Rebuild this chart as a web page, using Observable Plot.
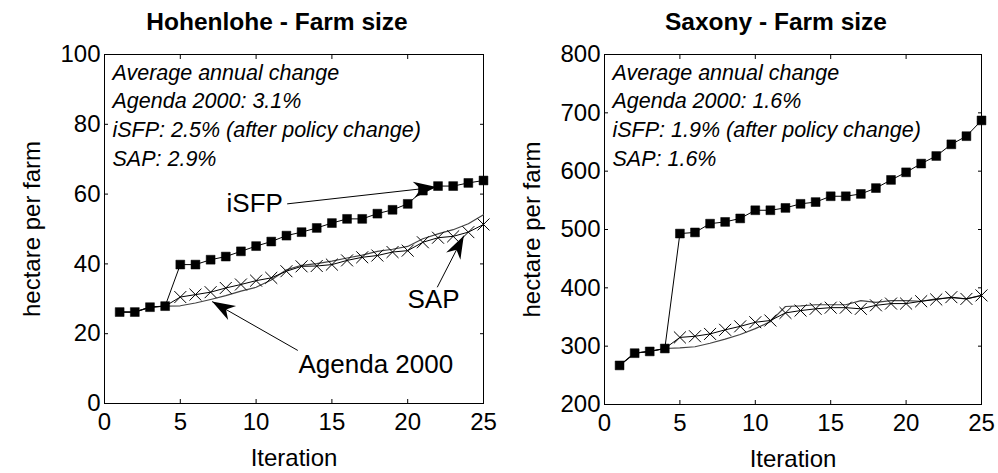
<!DOCTYPE html>
<html><head><meta charset="utf-8">
<script src="https://cdn.jsdelivr.net/npm/d3@7"></script>
<script src="https://cdn.jsdelivr.net/npm/@observablehq/plot@0.6"></script>
<style>
body{margin:0;background:#fff;}
#wrap{display:flex;width:998px;height:473px;overflow:hidden;}
#wrap svg{display:block;}
</style></head><body><div id="wrap"></div>
<script>
// ---------- data ----------
const iterations = [1,2,3,4,5,6,7,8,9,10,11,12,13,14,15,16,17,18,19,20,21,22,23,24,25];
const xTicks = [0,5,10,15,20,25];

// Hohenlohe
const hohTitle = "Hohenlohe - Farm size";
const hohYTicks = [0,20,40,60,80,100];
const hohAgenda = [26.2,26.2,27.6,27.9,28.0,28.8,29.8,30.9,32.2,33.3,35.4,38.3,39.6,40.1,40.8,41.7,42.5,43.6,44.2,45.0,47.2,48.6,49.8,51.5,54.1];
const hohISFP   = [26.2,26.2,27.6,27.9,39.8,39.8,41.2,42.1,43.6,45.1,46.4,48.1,49.1,50.3,51.7,52.9,52.9,54.4,55.5,57.2,61.0,62.3,62.3,63.2,63.9];
const hohSAP    = [26.2,26.2,27.6,27.9,30.5,31.2,31.9,33.1,34.1,35.2,36.0,37.9,39.3,39.4,39.8,41.0,41.9,42.4,43.4,43.8,46.2,47.5,47.9,49.1,51.3];
const hohNote = "Average annual change\nAgenda 2000: 3.1%\niSFP: 2.5% (after policy change)\nSAP: 2.9%";
const hohLabelText = ["iSFP","SAP","Agenda 2000"];
const hohLabelX = [11.9, 21.7, 17.9];
const hohLabelY = [57.3, 29.8, 11.2];
const hohLabelAnchor = ["end","middle","middle"];
const hohArrowFromX = [12.05, 21.95, 12.75];
const hohArrowFromY = [57.2, 33.3, 15.2];
const hohArrowToX = [21.9, 23.7, 7.1];
const hohArrowToY = [62.0, 48.1, 29.2];

// Saxony
const saxTitle = "Saxony - Farm size";
const saxYTicks = [200,300,400,500,600,700,800];
const saxAgenda = [267,288,291,296,297,299,305,312,320,330,342,368,369,371,371,371,378,375,378,378,377,381,383,381,387];
const saxISFP   = [267,288,291,296,493,495,510,513,519,533,533,537,544,547,557,557,561,571,585,598,613,626,646,660,687];
const saxSAP    = [267,288,291,296,315,317,321,328,334,341,344,357,361,364,366,366,364,370,373,373,377,380,384,381,387];
const saxNote = "Average annual change\nAgenda 2000: 1.6%\niSFP: 1.9% (after policy change)\nSAP: 1.6%";

const xLabel = "Iteration";
const yLabel = "hectare per farm";

// ---------- helpers ----------
const FONT = "'Liberation Sans', Arial, Helvetica, sans-serif";

function headMarker(color) {
  const m = d3.create("svg:marker")
    .attr("viewBox", "-25 -9 26 18")
    .attr("markerWidth", 26).attr("markerHeight", 18)
    .attr("markerUnits", "userSpaceOnUse")
    .attr("refX", 0).attr("refY", 0)
    .attr("orient", "auto")
    .attr("overflow", "visible");
  m.append("path").attr("d", "M0,0L-23,-8L-16,0L-23,8Z").attr("fill", color).attr("stroke", "none");
  return m.node();
}

function arrowMarks(arrows) {
  try {
    return [Plot.link(arrows, {x1: "x1", y1: "y1", x2: "x2", y2: "y2", stroke: "black", strokeWidth: 1, markerEnd: headMarker})];
  } catch (e) {
    return [Plot.arrow(arrows, {x1: "x1", y1: "y1", x2: "x2", y2: "y2", stroke: "black", strokeWidth: 1.2, headLength: 18, headAngle: 40})];
  }
}

function panel(cfg) {
  const series = (vals) => iterations.map((it, i) => ({x: it, y: vals[i]}));
  const agenda = series(cfg.agenda);
  const isfp = series(cfg.isfp);
  const sap = series(cfg.sap);
  const sapMarkers = sap.slice(4);
  const marks = [
    Plot.frame({stroke: "black", strokeWidth: 1}),
    Plot.axisX({anchor: "bottom", ticks: xTicks, tickSize: -4, tickPadding: 13, label: null, fontSize: 24}),
    Plot.axisX({anchor: "top", ticks: xTicks, tickSize: -4, tickFormat: () => "", label: null}),
    Plot.axisY({anchor: "left", ticks: cfg.yTicks, tickSize: -4, tickPadding: 8, label: null, fontSize: 24}),
    Plot.axisY({anchor: "right", ticks: cfg.yTicks, tickSize: -4, tickFormat: () => "", label: null}),
    Plot.line(agenda, {x: "x", y: "y", stroke: "#444", strokeWidth: 1.2}),
    Plot.line(sap, {x: "x", y: "y", stroke: "black", strokeWidth: 1}),
    Plot.dot(sapMarkers, {x: "x", y: "y", symbol: "times", r: 5.5, stroke: "black", strokeWidth: 1}),
    Plot.line(isfp, {x: "x", y: "y", stroke: "black", strokeWidth: 1}),
    Plot.dot(isfp, {x: "x", y: "y", symbol: "square", r: 5, fill: "black", stroke: "black", strokeWidth: 0.5}),
    Plot.text([cfg.note], {text: d => d, frameAnchor: "top-left", dx: 8, dy: 5, lineAnchor: "top", textAnchor: "start", fontStyle: "italic", fontSize: 21.5, lineHeight: 1.33, fill: "black"}),
    Plot.text([cfg.title], {text: d => d, frameAnchor: "top", dy: -32, dx: -17, lineAnchor: "middle", textAnchor: "middle", fontWeight: "bold", fontSize: 24.5, fill: "black"}),
    Plot.text([xLabel], {text: d => d, frameAnchor: "bottom", dy: 55, lineAnchor: "middle", textAnchor: "middle", fontSize: 24, fill: "black"}),
    Plot.text([yLabel], {text: d => d, frameAnchor: "left", dx: -72, rotate: -90, lineAnchor: "middle", textAnchor: "middle", fontSize: 24, fill: "black"})
  ];
  if (cfg.labels) {
    const labels = cfg.labels.text.map((t, i) => ({t, x: cfg.labels.x[i], y: cfg.labels.y[i], a: cfg.labels.anchor[i]}));
    for (const anchor of ["start", "middle", "end"]) {
      const sub = labels.filter(d => d.a === anchor);
      if (sub.length) marks.push(Plot.text(sub, {x: "x", y: "y", text: "t", textAnchor: anchor, fontSize: 26, fill: "black", dx: anchor === "end" ? -2 : 0}));
    }
    const arrows = cfg.arrows.fromX.map((v, i) => ({x1: v, y1: cfg.arrows.fromY[i], x2: cfg.arrows.toX[i], y2: cfg.arrows.toY[i]}));
    marks.push(...arrowMarks(arrows));
  }
  return Plot.plot({
    width: 499,
    height: 473,
    marginLeft: cfg.ml, marginRight: cfg.mr, marginTop: 54, marginBottom: cfg.mb,
    style: {fontFamily: FONT, fontSize: "24px", color: "black", background: "white", overflow: "visible"},
    x: {domain: [0, 25]},
    y: {domain: cfg.yDomain},
    marks
  });
}

const wrap = document.getElementById("wrap");
wrap.appendChild(panel({
  title: hohTitle, yTicks: hohYTicks, yDomain: [0, 100],
  agenda: hohAgenda, isfp: hohISFP, sap: hohSAP, note: hohNote,
  ml: 104, mr: 16, mb: 70,
  labels: {text: hohLabelText, x: hohLabelX, y: hohLabelY, anchor: hohLabelAnchor},
  arrows: {fromX: hohArrowFromX, fromY: hohArrowFromY, toX: hohArrowToX, toY: hohArrowToY}
}));
wrap.appendChild(panel({
  title: saxTitle, yTicks: saxYTicks, yDomain: [200, 800],
  agenda: saxAgenda, isfp: saxISFP, sap: saxSAP, note: saxNote,
  ml: 105, mr: 17, mb: 69
}));
</script></body></html>
